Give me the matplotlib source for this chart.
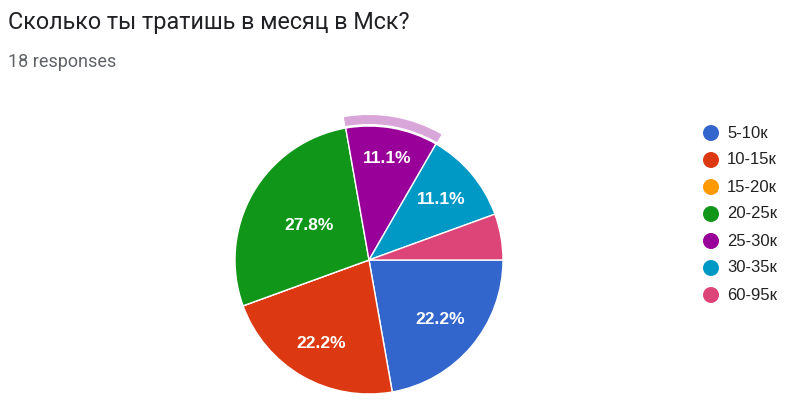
import numpy as np
import matplotlib.pyplot as plt
from matplotlib.patches import Wedge, Circle

title = "Сколько ты тратишь в месяц в Мск?"
subtitle = "18 responses"
labels = ["5-10к", "10-15к", "15-20к", "20-25к", "25-30к", "30-35к", "60-95к"]
counts = [4, 4, 0, 5, 2, 2, 1]
colors = ["#3366cc", "#dc3912", "#ff9900", "#109618", "#990099", "#0099c6", "#dd4477"]
label_r = [0.69, 0.72, 0.0, 0.52, 0.77, 0.70, 0.0]
highlight = 4

W, H = 791, 404
fig = plt.figure(figsize=(W / 100, H / 100), dpi=100)
ax = fig.add_axes([0, 0, 1, 1])

cx, cy, r = 369, H - 260, 134
total = sum(counts)
wedges, _ = ax.pie(counts, colors=colors, startangle=0, counterclock=False,
                   center=(cx, cy), radius=r,
                   wedgeprops=dict(edgecolor="white", linewidth=1))

# процентные подписи (маленькие доли без подписи)
for i, w in enumerate(wedges):
    frac = counts[i] / total
    if frac < 0.1:
        continue
    mid = np.deg2rad((w.theta1 + w.theta2) / 2)
    d = label_r[i] * r
    ax.text(cx + d * np.cos(mid), cy + d * np.sin(mid), f"{frac * 100:.1f}%",
            color="white", fontsize=12.5, fontweight="bold",
            family="Liberation Sans", ha="center", va="center")

# подсветка выбранного сектора
hw = wedges[highlight]
ax.add_patch(Wedge((cx, cy), r + 11, hw.theta1, hw.theta2, width=9,
                   facecolor="#d9a6d9", edgecolor="none"))

ax.set_xlim(0, W)
ax.set_ylim(0, H)
ax.set_aspect("equal")
ax.axis("off")

fig.text(8 / W, 1 - 22 / H, title, fontsize=16.8, family="Roboto", color="#202124",
         va="center", ha="left")
fig.text(8 / W, 1 - 62 / H, subtitle, fontsize=13, family="Roboto", color="#5f6368",
         va="center", ha="left")

for i, lab in enumerate(labels):
    y = H - (133 + 27 * i)
    ax.add_patch(Circle((711, y), 8, facecolor=colors[i], edgecolor="none"))
    ax.text(727, y, lab, fontsize=12, family="Liberation Sans", color="#222222",
            va="center", ha="left")

fig.savefig("out.png", dpi=100, facecolor="white")
